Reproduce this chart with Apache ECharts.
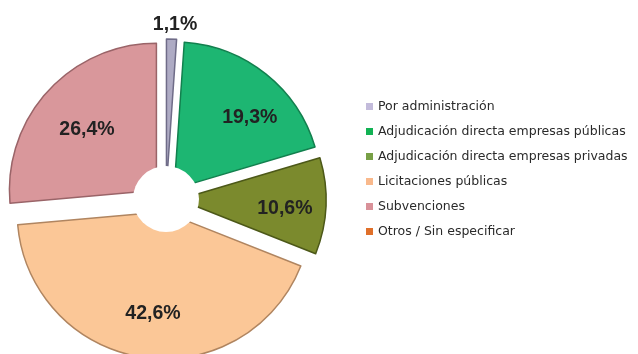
<!DOCTYPE html>
<html>
<head>
<meta charset="utf-8">
<script src="https://cdn.jsdelivr.net/npm/echarts@6/dist/echarts.min.js"></script>
<style>
  html, body { margin: 0; padding: 0; background: #ffffff; }
  #chart { width: 638px; height: 354px; }
</style>
</head>
<body>
<div id="chart"></div>
<script>
// Distribución por modalidad de gestión (%)
const categories = [
  'Por administración',
  'Adjudicación directa empresas públicas',
  'Adjudicación directa empresas privadas',
  'Licitaciones públicas',
  'Subvenciones',
  'Otros / Sin especificar'
];
const shares = [1.1, 19.3, 10.6, 42.6, 26.4, 0];

// Slice fills / outlines and legend swatches
const sliceColors  = ['#aeabc4', '#1db672', '#7b8a2d', '#fbc797', '#d9979b', '#e46c0a'];
const sliceBorders = ['#6f6c88', '#12804e', '#4c5818', '#b08560', '#9a6468', '#a04c08'];
const legendColors = ['#c3bbdb', '#12b254', '#78a046', '#f9b98c', '#d99199', '#e0702a'];

const center = [166, 199];
const fmt = v => v.toFixed(1).replace('.', ',') + '%';

// Small slices get their label placed outside the pie
const isSmall = v => v > 0 && v < 5;

// Fine label nudges [dx, dy] in pixels
const labelNudge = [
  [3, 0],
  [10, 11],
  [1, 4],
  [4, -2],
  [8, 10],
  [0, 0]
];

const chart = echarts.init(document.getElementById('chart'));

const sliceData = categories.map((name, i) => ({
  name,
  value: shares[i],
  selected: true,
  itemStyle: {
    color: sliceColors[i],
    borderColor: sliceBorders[i],
    borderWidth: shares[i] > 0 ? 1.5 : 0
  }
}));

// Horizontal nudge via one-sided padding, vertical nudge via an empty
// line above or below the text.
function nudgedLabel(i, show) {
  const [dx, dy] = labelNudge[i];
  const label = {
    show,
    padding: dx >= 0 ? [0, 0, 0, 2 * dx] : [0, -2 * dx, 0, 0]
  };
  if (dy !== 0) label.lineHeight = 2 * Math.abs(dy);
  return label;
}

function labelText(p) {
  const dy = labelNudge[p.dataIndex][1];
  const t = fmt(p.value);
  if (dy > 0) return '\n' + t;
  if (dy < 0) return t + '\n';
  return t;
}

const innerLabelData = categories.map((name, i) => ({
  name,
  value: shares[i],
  selected: true,
  label: nudgedLabel(i, shares[i] > 0 && !isSmall(shares[i]))
}));

const outerLabelData = categories.map((name, i) => ({
  name,
  value: shares[i],
  selected: true,
  label: nudgedLabel(i, isSmall(shares[i]))
}));

function labelSeries(name, outerRadius, data) {
  return {
    type: 'pie',
    name,
    center,
    radius: [0, outerRadius],
    startAngle: 90,
    clockwise: true,
    selectedMode: 'multiple',
    selectedOffset: 13,
    silent: true,
    emphasis: { disabled: true },
    itemStyle: { color: 'rgba(0,0,0,0)', borderWidth: 0 },
    label: {
      show: true,
      position: 'inside',
      formatter: labelText,
      fontFamily: 'Liberation Sans, Arial, sans-serif',
      fontWeight: 'bold',
      fontSize: 19.5,
      color: '#222222'
    },
    labelLine: { show: false },
    data,
    z: 4
  };
}

chart.setOption({
  animation: false,
  legend: {
    orient: 'vertical',
    left: 361,
    top: 95,
    itemWidth: 7,
    itemHeight: 7,
    itemGap: 12,
    icon: 'rect',
    selectedMode: false,
    itemStyle: { borderWidth: 0 },
    textStyle: { fontFamily: 'DejaVu Sans', fontSize: 12.5, color: '#2a2a2a' },
    data: categories.map((name, i) => ({
      name,
      itemStyle: { color: legendColors[i], borderWidth: 0 }
    }))
  },
  series: [
    {
      type: 'pie',
      name: 'slices',
      center,
      radius: [0, 147],
      startAngle: 90,
      clockwise: true,
      selectedMode: 'multiple',
      selectedOffset: 13,
      silent: true,
      emphasis: { disabled: true },
      label: { show: false },
      labelLine: { show: false },
      data: sliceData,
      z: 2
    },
    {
      // Central white disc
      type: 'pie',
      name: 'hole',
      center,
      radius: [0, 33],
      silent: true,
      emphasis: { disabled: true },
      label: { show: false },
      labelLine: { show: false },
      itemStyle: { color: '#ffffff', borderWidth: 0 },
      data: [{ name: '', value: 1 }],
      z: 3
    },
    labelSeries('labels-inner', 204, innerLabelData),
    labelSeries('labels-outer', 316, outerLabelData)
  ]
});
</script>
</body>
</html>
